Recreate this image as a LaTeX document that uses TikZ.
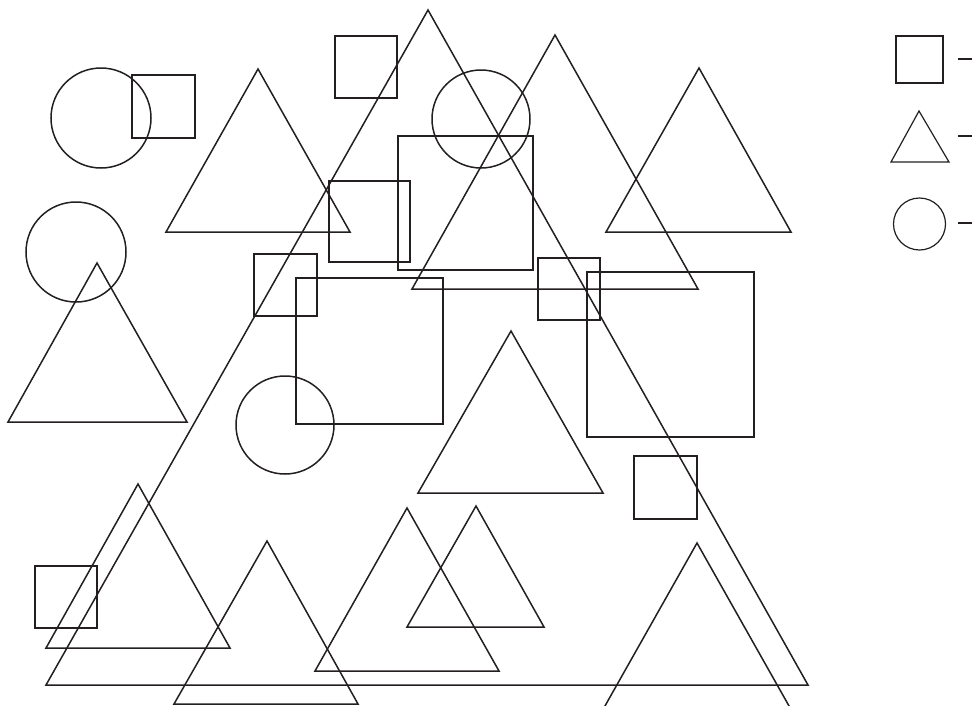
\documentclass[tikz,border=0pt]{standalone}
\usepackage{tikz}
\definecolor{ink}{RGB}{35,31,32}
\tikzset{shp/.style={draw=ink,line width=1.5pt,line join=miter}}

\begin{document}
\begin{tikzpicture}[x=1pt,y=-1pt]
        \useasboundingbox (0,0) rectangle (972,705);
        \clip (0,0) rectangle (972,705);
        % triangles
        \draw[shp] (428,10) -- (46,685) -- (808,685) -- cycle;
        \draw[shp] (258,69) -- (166,232) -- (350,232) -- cycle;
        \draw[shp] (555,35) -- (412,289) -- (698,289) -- cycle;
        \draw[shp] (699,68) -- (606,232) -- (791,232) -- cycle;
        \draw[shp] (97,263) -- (8,422) -- (187,422) -- cycle;
        \draw[shp] (511,331) -- (418,493) -- (603,493) -- cycle;
        \draw[shp] (138,484) -- (46,648) -- (230,648) -- cycle;
        \draw[shp] (267,541) -- (174,704) -- (358,704) -- cycle;
        \draw[shp] (407,508) -- (315,671) -- (499,671) -- cycle;
        \draw[shp] (476,506) -- (407,627) -- (544,627) -- cycle;
        \draw[shp] (697,543) -- (601,713) -- (793,713) -- cycle;
        % squares
        \draw[shp] (132,75) rectangle (195,138);
        \draw[shp] (335,36) rectangle (397,98);
        \draw[shp] (329,181) rectangle (410,262);
        \draw[shp] (398,136) rectangle (533,270);
        \draw[shp] (254,254) rectangle (317,316);
        \draw[shp] (296,278) rectangle (443,424);
        \draw[shp] (538,258) rectangle (600,320);
        \draw[shp] (587,272) rectangle (754,437);
        \draw[shp] (634,456) rectangle (697,519);
        \draw[shp] (35,566) rectangle (97,628);
        % circles
        \draw[shp] (101,118) circle[radius=50];
        \draw[shp] (76,252) circle[radius=50];
        \draw[shp] (481,119) circle[radius=49];
        \draw[shp] (285,425) circle[radius=49];
        % key
        \draw[shp,line width=1.2pt] (896,36) rectangle (943,83);
        \draw[shp,line width=1.2pt] (919,111) -- (891,162) -- (949,162) -- cycle;
        \draw[shp,line width=1.2pt] (919.5,224) circle[radius=26];
        \draw[shp] (958,59) -- (972,59);
        \draw[shp] (958,136) -- (972,136);
        \draw[shp] (958,223) -- (972,223);
      \end{tikzpicture}
\end{document}
